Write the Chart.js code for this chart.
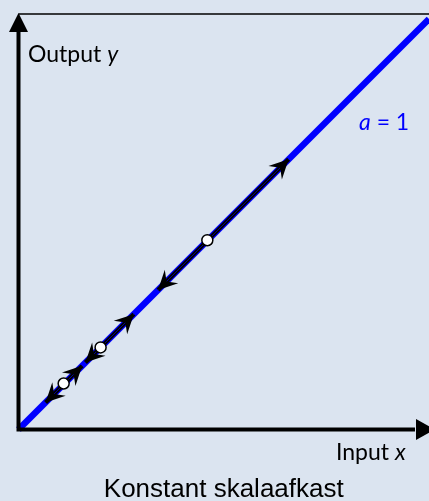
<!DOCTYPE html>
<html>
<head>
<meta charset="utf-8">
<script src="https://cdn.jsdelivr.net/npm/chart.js@4/dist/chart.umd.min.js"></script>
<style>
  html, body { margin: 0; padding: 0; background: #dbe4f0; }
  #wrap { width: 429px; height: 501px; position: relative; }
</style>
</head>
<body>
<div id="wrap"><canvas id="c"></canvas></div>
<script>
// ---- data ----
const lineX = [0, 10];            // a = 1 line: y = x
const lineY = [0, 10];
const pointX = [1.1, 2.0, 4.6];   // white circles
const pointY = [1.12, 2.0, 4.61];
const arrowFrom = [1.1, 1.1, 2.0, 2.0, 4.6, 4.6];
const arrowTo   = [0.66, 1.55, 1.63, 2.81, 3.4, 6.58];
const xLabel = ['Input ', 'x'];
const yLabel = ['Output ', 'y'];
const lineLabel = ['a', ' = 1'];
const chartTitle = 'Konstant skalaafkast';

const BG = '#dbe4f0';
const BLUE = '#0000ff';
const LBL_FONT = 'Lato, "Open Sans", sans-serif';

const datasets = [];
datasets.push({
  label: 'a = 1',
  data: lineX.map((x, i) => ({x, y: lineY[i]})),
  borderColor: BLUE, borderWidth: 6.5, pointRadius: 0, showLine: true,
  clip: false, order: 10, borderCapStyle: 'butt'
});
arrowFrom.forEach((f, i) => {
  datasets.push({
    label: 'arrow' + i,
    data: [{x: f, y: f}, {x: arrowTo[i], y: arrowTo[i]}],
    borderColor: '#000000', borderWidth: 4.2, pointRadius: 0, showLine: true,
    order: 8, borderCapStyle: 'butt'
  });
  datasets.push({
    label: 'seam' + i,
    data: [{x: f, y: f}, {x: arrowTo[i], y: arrowTo[i]}],
    borderColor: BLUE, borderWidth: 0.6, pointRadius: 0, showLine: true,
    order: 7, borderCapStyle: 'butt'
  });
});
datasets.push({
  label: 'points',
  data: pointX.map((x, i) => ({x, y: pointY[i]})),
  showLine: false, pointRadius: 5.5, pointBackgroundColor: '#ffffff',
  pointBorderColor: '#000000', pointBorderWidth: 1.5, order: 1
});

const deco = {
  id: 'deco',
  beforeDraw(chart) {
    const ctx = chart.ctx;
    ctx.save();
    ctx.fillStyle = BG;
    ctx.fillRect(0, 0, chart.width, chart.height);
    ctx.restore();
  },
  afterDatasetsDraw(chart) {
    const ctx = chart.ctx;
    const xs = chart.scales.x, ys = chart.scales.y;
    const ca = chart.chartArea;
    ctx.save();
    // arrowheads
    ctx.fillStyle = '#000';
    arrowFrom.forEach((f, i) => {
      const x0 = xs.getPixelForValue(f), y0 = ys.getPixelForValue(f);
      const x1 = xs.getPixelForValue(arrowTo[i]), y1 = ys.getPixelForValue(arrowTo[i]);
      const ang = Math.atan2(y1 - y0, x1 - x0);
      ctx.save();
      ctx.translate(x1, y1);
      ctx.rotate(ang);
      ctx.beginPath();
      ctx.moveTo(0, 0);
      ctx.lineTo(-19, -9.5);
      ctx.lineTo(-12, 0);
      ctx.lineTo(-19, 9.5);
      ctx.closePath();
      ctx.fill();
      ctx.restore();
    });
    // axes
    const ox = xs.getPixelForValue(0), oy = ys.getPixelForValue(0);
    ctx.strokeStyle = '#000';
    ctx.lineWidth = 1.5;
    ctx.beginPath();
    ctx.moveTo(ox, ca.top);
    ctx.lineTo(chart.width, ca.top);
    ctx.stroke();
    ctx.lineWidth = 4;
    ctx.beginPath();
    ctx.moveTo(ox, oy + 2);
    ctx.lineTo(ox, ca.top + 16);
    ctx.moveTo(ox - 2, oy);
    ctx.lineTo(ca.right - 14, oy);
    ctx.stroke();
    ctx.beginPath();
    ctx.moveTo(ox, ca.top - 1);
    ctx.lineTo(ox - 9.5, ca.top + 18);
    ctx.lineTo(ox + 9.5, ca.top + 18);
    ctx.closePath();
    ctx.fill();
    ctx.beginPath();
    ctx.moveTo(ca.right + 6, oy);
    ctx.lineTo(ca.right - 13, oy - 10.5);
    ctx.lineTo(ca.right - 13, oy + 10.5);
    ctx.closePath();
    ctx.fill();
    // labels
    function mixed(parts, italicIdx, x, y, color) {
      ctx.fillStyle = color;
      ctx.textBaseline = 'alphabetic';
      ctx.textAlign = 'left';
      let cx = x;
      parts.forEach((p, i) => {
        ctx.font = (i === italicIdx ? 'italic ' : '') + '23px ' + LBL_FONT;
        ctx.fillText(p, cx, y);
        cx += ctx.measureText(p).width;
      });
    }
    mixed(yLabel, 1, 28, 62, '#000');
    mixed(xLabel, 1, 336, 460, '#000');
    mixed(lineLabel, 0, 359, 130, BLUE);
    ctx.font = '26px "Liberation Sans", Arial, sans-serif';
    ctx.fillStyle = '#000';
    ctx.textAlign = 'center';
    ctx.fillText(chartTitle, (ca.left + chart.width) / 2, 497);
    ctx.restore();
  }
};

new Chart(document.getElementById('c'), {
  type: 'scatter',
  data: { datasets },
  options: {
    responsive: true,
    maintainAspectRatio: false,
    animation: false,
    layout: { autoPadding: false, padding: { left: 18.5, right: 0, top: 14, bottom: 71.5 } },
    scales: {
      x: { type: 'linear', min: 0, max: 10, display: false },
      y: { type: 'linear', min: 0, max: 10.12, display: false }
    },
    plugins: { legend: { display: false }, tooltip: { enabled: false }, title: { display: false } }
  },
  plugins: [deco]
});
</script>
</body>
</html>
